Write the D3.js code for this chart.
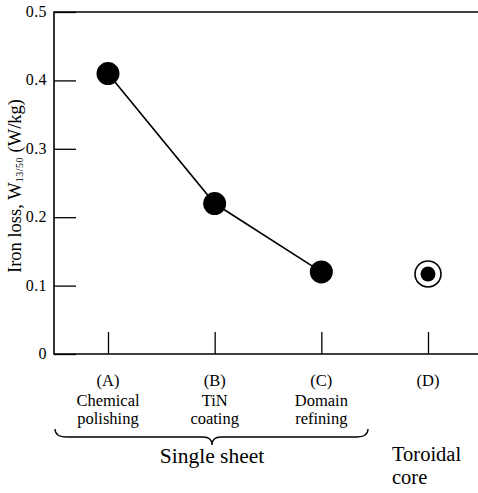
<!DOCTYPE html>
<html><head><meta charset="utf-8">
<script src="https://cdn.jsdelivr.net/npm/d3@7"></script>
<style>body{margin:0;background:#fff}svg{display:block}text{font-family:"Liberation Serif","DejaVu Serif",serif;fill:#000}</style>
</head><body><svg id="c" width="478" height="493"></svg>
<script>
const categories = ["A","B","C","D"];
const catLabels = ["(A)","(B)","(C)","(D)"];
const catDesc = [["Chemical","polishing"],["TiN","coating"],["Domain","refining"],[]];
const lineValues = [0.41, 0.22, 0.12];
const toroidValue = [0.117];
const yTicks = [0, 0.1, 0.2, 0.3, 0.4, 0.5];

const svg = d3.select("#c");
const L = 54, T = 12, B = 354, R = 478;
const x = d3.scalePoint().domain(categories).range([108, 428]);
const y = d3.scaleLinear().domain([0, 0.5]).range([B, T]);

// frame
svg.append("path").attr("d", `M${R},${T}H${L}V${B}H${R}`).attr("fill","none").attr("stroke","#000").attr("stroke-width",1.6);

// y ticks (inward)
const yAxis = d3.axisRight(y).tickValues(yTicks).tickSize(22).tickFormat("");
const ga = svg.append("g").attr("transform",`translate(${L},0)`).call(yAxis);
ga.select(".domain").remove();
ga.selectAll("line").attr("stroke","#000").attr("stroke-width",1.3);
svg.selectAll(".ylab").data(yTicks).join("text").attr("x",47).attr("y",d=>y(d)+5)
  .attr("text-anchor","end").attr("font-size",16).attr("letter-spacing",0.4).text(d=>d===0?"0":d.toFixed(1));

// x ticks (inward, upward)
const xAxis = d3.axisTop(x).tickSize(22).tickFormat("");
const gx = svg.append("g").attr("transform",`translate(0,${B})`).call(xAxis);
gx.select(".domain").remove();
gx.selectAll("line").attr("stroke","#000").attr("stroke-width",1.3);

// x labels
svg.selectAll(".xl").data(categories).join("text").attr("x",d=>x(d)).attr("y",386)
  .attr("text-anchor","middle").attr("font-size",16.5).text((d,i)=>catLabels[i]);
categories.forEach((c,i)=>{
  catDesc[i].forEach((s,j)=>{
    svg.append("text").attr("x",x(c)).attr("y",406+j*18).attr("text-anchor","middle").attr("font-size",16.5).text(s);
  });
});

// brace
const bx0 = 55, bx1 = 368, bm = 212, by = 429;
svg.append("path").attr("d",
  `M${bx0},${by} Q${bx0},${by+8} ${bx0+12},${by+8} L${bm-9},${by+8} Q${bm},${by+8} ${bm},${by+16} Q${bm},${by+8} ${bm+9},${by+8} L${bx1-12},${by+8} Q${bx1},${by+8} ${bx1},${by}`)
  .attr("fill","none").attr("stroke","#000").attr("stroke-width",1.3);

svg.append("text").attr("x",bm).attr("y",463).attr("text-anchor","middle").attr("font-size",21.5).text("Single sheet");
svg.append("text").attr("x",392).attr("y",461).attr("font-size",20.5).text("Toroidal");
svg.append("text").attr("x",392).attr("y",484).attr("font-size",20.5).text("core");

// y label
const yl = svg.append("text").attr("transform",`translate(21,186) rotate(-90)`).attr("text-anchor","middle").attr("font-size",18.5);
yl.append("tspan").text("Iron loss, W");
yl.append("tspan").attr("font-size",10).attr("letter-spacing",0.5).attr("dy",2).text("13/50");
yl.append("tspan").attr("dy",-2).text(" (W/kg)");

// line + points
const lineCats = categories.slice(0,3);
svg.append("path").datum(lineValues).attr("fill","none").attr("stroke","#000").attr("stroke-width",1.6)
  .attr("d", d3.line().x((d,i)=>x(lineCats[i])).y(d=>y(d)));
svg.selectAll(".pt").data(lineValues).join("circle").attr("cx",(d,i)=>x(lineCats[i])).attr("cy",d=>y(d)).attr("r",11.5).attr("fill","#000");

// toroidal point
svg.selectAll(".ring").data(toroidValue).join("circle").attr("cx",x("D")).attr("cy",d=>y(d)).attr("r",13).attr("fill","none").attr("stroke","#000").attr("stroke-width",1.6);
svg.selectAll(".tp").data(toroidValue).join("circle").attr("cx",x("D")).attr("cy",d=>y(d)).attr("r",7.5).attr("fill","#000");
</script></body></html>
